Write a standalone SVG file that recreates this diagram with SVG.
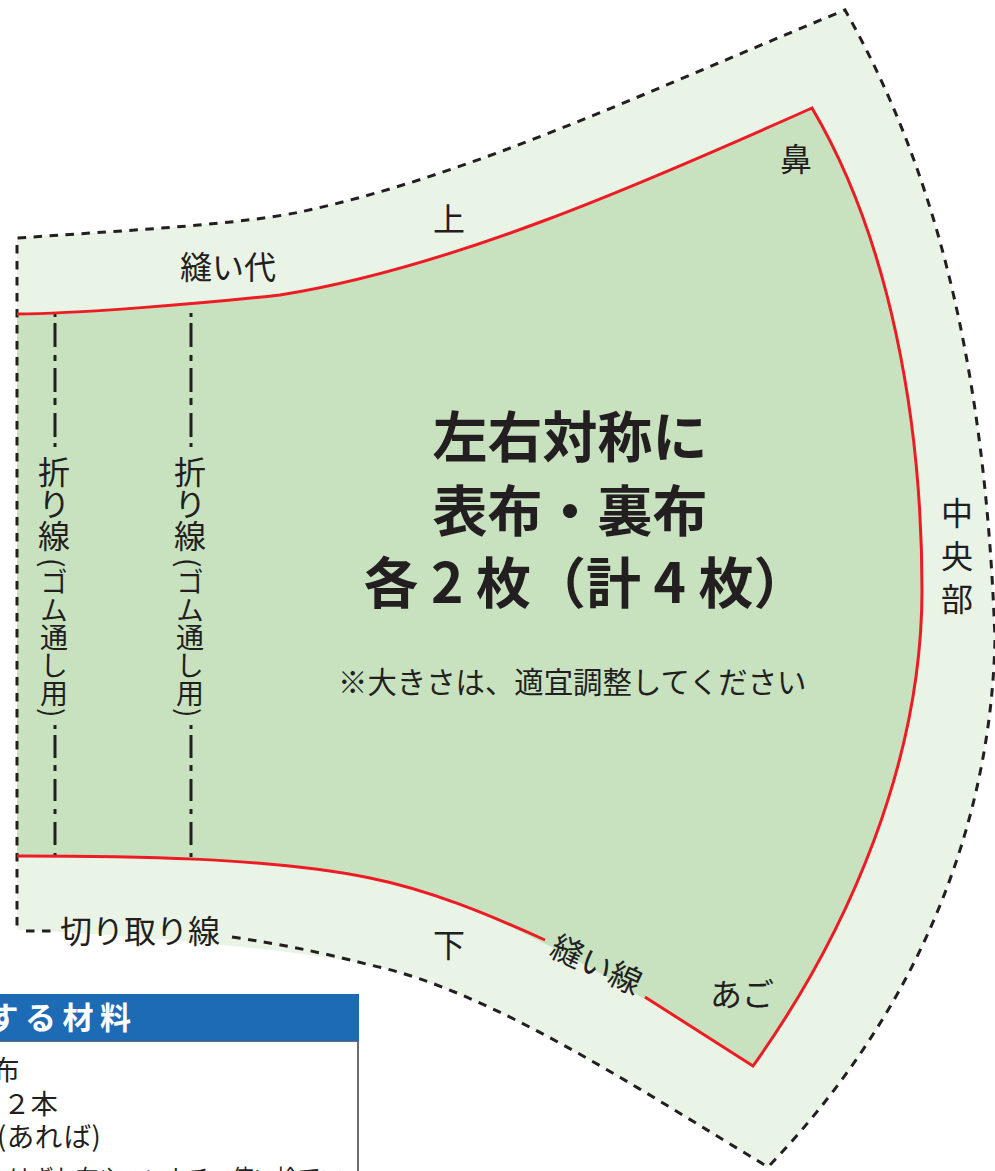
<svg xmlns="http://www.w3.org/2000/svg" width="995" height="1171" viewBox="0 0 995 1171">
<style>
text{font-family:"Noto Sans CJK JP","Noto Sans",sans-serif;fill:#231f20}
.l{font-size:32px}
.b{font-size:55px;font-weight:700;text-anchor:middle}
.v{font-size:32px;writing-mode:vertical-rl}
.v2{font-size:28px;letter-spacing:.4px;writing-mode:vertical-rl;font-feature-settings:"vpal"}
.cut{fill:none;stroke:#231f20;stroke-width:3;stroke-dasharray:8.5 7.5}
.sew{fill:none;stroke:#ed1c24;stroke-width:3}
.fold{fill:none;stroke:#231f20;stroke-width:3}
.m{font-size:27.5px}
</style>
<defs>
<path id="fold-line" class="fold" d="M55 313V317M55 323V347M55 355V361M55 368V392M55 398V405M55 413V437M55 443V447M55 725V729M55 735V758M55 765V771M55 779V801M55 809V814M55 822V845M55 853V857"/>
</defs>
<g id="mask">
<path id="seam-allowance" fill="#e9f3e6" d="M17 238C150 229 240 224 300 212C470 176 650 90 845 10C930 160 985 350 995 640C990 850 900 1030 768 1167C640 1090 490 990 370 965C300 950 100 932 17 930Z"/>
<path id="body" fill="#c8e2c0" d="M17 314C70 314 200 304 280 295C450 268 640 185 812 108C890 240 922 420 922 590C922 760 850 930 753 1066C640 995 500 905 370 878C270 857 120 856 17 856Z"/>
</g>
<g id="connectors">
<path class="cut" d="M232 937C280 944 320 952 370 965C490 990 640 1090 768 1167C900 1030 990 850 995 640C985 350 930 160 845 10C650 90 470 176 300 212C240 224 150 229 17 238L17 932"/>
<path class="cut" d="M26 931H52"/>
<use href="#fold-line"/>
<use href="#fold-line" x="136"/>
<path class="sew" d="M17 314C70 314 200 304 280 295C450 268 640 185 812 108C890 240 922 420 922 590C922 760 850 930 753 1066L645 997"/>
<path class="sew" d="M545 940C490 915 430 890 370 878C270 857 120 856 17 856"/>
</g>
<g id="labels">
<text class="l" x="180" y="279">縫い代</text>
<text class="l" x="433" y="231">上</text>
<text class="l" x="433" y="957">下</text>
<text class="l" x="780" y="171">鼻</text>
<text class="l" x="710" y="1006">あご</text>
<text class="l" x="60" y="943">切り取り線</text>
<text class="l" x="0" y="0" transform="translate(548 955) rotate(25)">縫い線</text>
<text class="l" x="941" y="525">中</text>
<text class="l" x="941" y="568">央</text>
<text class="l" x="941" y="611">部</text>
<text class="v" x="54" y="456">折り線</text>
<text class="v2" x="54" y="558">(ゴム通し用)</text>
<text class="v" x="190" y="456">折り線</text>
<text class="v2" x="190" y="558">(ゴム通し用)</text>
<text class="b" x="570" y="457">左右対称に</text>
<text class="b" x="570" y="531">表布・裏布</text>
<text class="b" x="586" y="603">各 2 枚（計 4 枚）</text>
<text x="338" y="693" font-size="29.4">※大きさは、適宜調整してください</text>
</g>
<g id="materials">
<rect x="-2" y="1041" width="360" height="140" fill="#fff" stroke="#6d6e71" stroke-width="2"/>
<rect x="-2" y="994" width="361" height="47" fill="#1e6bb5"/>
<text x="-12.5" y="1029" font-size="31" font-weight="700" letter-spacing="6.5" style="fill:#fff">する材料</text>
<text class="m" x="-8" y="1080">布</text>
<text class="m" x="3" y="1114">２本</text>
<text class="m" x="-3" y="1147" letter-spacing=".8" style="font-feature-settings:'palt'">(あれば)</text>
<text x="9" y="1188" font-size="25" textLength="334" lengthAdjust="spacingAndGlyphs">はぎれ布やハンカチ、使い捨てマ</text>
</g>
</svg>
